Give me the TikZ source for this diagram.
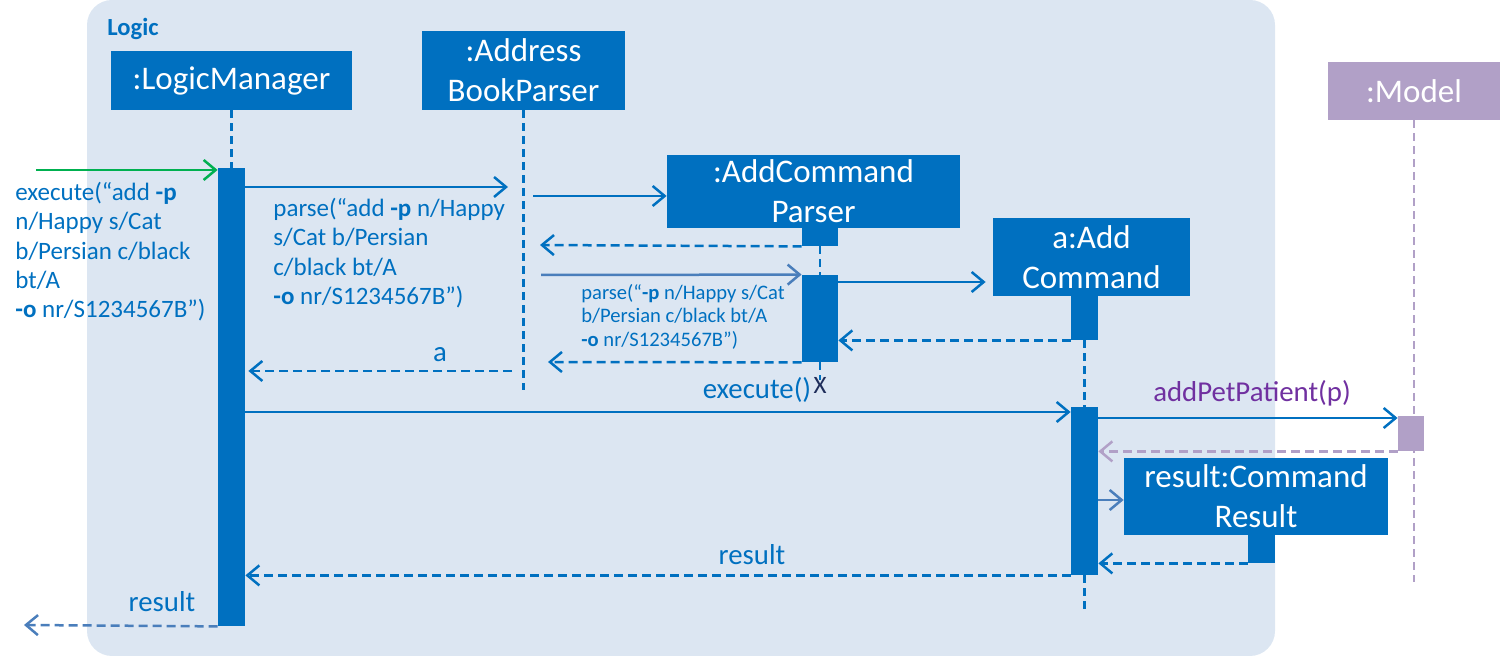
\documentclass[tikz,border=0pt]{standalone}
\usepackage{fontspec}
\setmainfont{Carlito}
\usepackage{tikz}
\usetikzlibrary{arrows.meta,positioning}
\definecolor{lgblue}{RGB}{0,112,192}
\definecolor{lgback}{RGB}{220,230,242}
\definecolor{lgpale}{RGB}{74,126,187}
\definecolor{lggreen}{RGB}{0,176,80}
\definecolor{mdpurple}{RGB}{177,160,199}
\definecolor{mdtext}{RGB}{112,48,160}
\definecolor{xnavy}{RGB}{31,45,90}
\newcommand{\objfont}{\fontsize{16.5}{20}\selectfont}
\newcommand{\msgfont}{\fontsize{12.5}{14.6}\selectfont}
\newcommand{\smallmsgfont}{\fontsize{10.3}{11.75}\selectfont}
\newcommand{\callfont}{\fontsize{14.4}{16}\selectfont}
\tikzset{
  obj/.style={fill=lgblue, text=white, align=center, inner sep=0pt, font=\objfont},
  act/.style={fill=lgblue, inner sep=0pt, minimum width=13.5pt},
  life/.style={lgblue, line width=1.25pt, dash pattern=on 4pt off 2.5pt},
  call/.style={lgblue, line width=1.25pt, -{Straight Barb[length=6pt,width=10pt]}},
  reply/.style={call, dash pattern=on 4.5pt off 2.5pt},
  msg/.style={text=lgblue, font=\msgfont, inner sep=0pt, align=left},
}

\begin{document}
\begin{tikzpicture}[x=0.5pt,y=-0.5pt]
\useasboundingbox (0,0) rectangle (1500,656);
% Logic frame
\fill[lgback, rounded corners=12.5pt] (87,0) rectangle (1275,656);
\node[text=lgblue, font=\fontsize{12.3}{14}\selectfont\bfseries, anchor=west, inner sep=0pt] (logic) at (107,29) {Logic};

% Objects
\node[obj, minimum width=120.5pt, minimum height=29.5pt] (lm) at (231.5,80.5) {:LogicManager};
\node[obj, minimum width=101.5pt, minimum height=39.5pt] (abp) at (523.5,70.5) {:Address\\BookParser};
\node[obj, minimum width=146.5pt, minimum height=36.5pt] (acp) at (813.5,191.5) {:AddCommand\\Parser};
\node[obj, minimum width=98.5pt, minimum height=39pt] (ac) at (1091.5,257) {a:Add\\Command};
\node[obj, fill=mdpurple, minimum width=86pt, minimum height=29pt] (md) at (1414,91) {:Model};
\node[obj, minimum width=132pt, minimum height=38.5pt] (cr) at (1256,496.5) {result:Command\\Result};

% Activation bars
\node[act, minimum height=229pt] (lmAct) at (231.5,397) {};
\node[act, minimum width=18pt, minimum height=9pt] (acpTop) at (820,237) {};
\node[act, minimum width=18pt, minimum height=43.5pt] (acpAct) at (820,318.5) {};
\node[act, minimum height=22pt] (acTop) at (1084.5,318) {};
\node[act, minimum height=84pt] (acAct) at (1084.5,491) {};
\node[act, fill=mdpurple, minimum width=13pt, minimum height=17.5pt] (mdAct) at (1411,433.5) {};
\node[act, minimum height=14pt] (crTop) at (1261.5,549) {};

% Free ends
\coordinate (user) at (36,170);
\coordinate (caller) at (24,625);
\coordinate (abpIn) at (508,187);
\coordinate (abpOut) at (512,371);
\coordinate (abpNew) at (533,196);
\coordinate (abpBack) at (540,245);
\coordinate (abpCall) at (541,275);
\coordinate (abpEnd) at (548,362);
\coordinate (abpFoot) at (523.5,390);
\coordinate (acpX) at (820,380);
\coordinate (acFoot) at (1084.5,612);
\coordinate (mdFoot) at (1414,582);

% Lifelines
\draw[life] (lm.south) -- (lmAct.north);
\draw[life] (abp.south) -- (abpFoot);
\draw[life] (acpTop.south) -- (acpAct.north);
\draw[life] (acpAct.south) -- (acpX);
\draw[life] (acTop.south) -- (acAct.north);
\draw[life] (acAct.south) -- (acFoot);
\draw[life, mdpurple] (md.south) -- (mdFoot);
\node[text=xnavy, font=\msgfont, inner sep=0pt] (xmark) at (820,385) {X};

% Messages
\draw[call, lggreen] (user) -- (lmAct.west |- user);
\node[msg, anchor=north west] (execLbl) at (15,182)
  {execute(“add \textbf{-p}\\n/Happy s/Cat\\b/Persian c/black\\bt/A\\\textbf{-o} nr/S1234567B”)};
\draw[call] (lmAct.east |- abpIn) -- (abpIn);
\node[msg, anchor=north west] (parseLbl) at (273,198)
  {parse(“add \textbf{-p} n/Happy\\s/Cat b/Persian\\c/black bt/A\\\textbf{-o} nr/S1234567B”)};
\draw[call] (abpNew) -- (acp.west |- abpNew);
\draw[reply] (acpTop.south west) -- (abpBack);
\draw[call, lgpale] (abpCall) -- (acpAct.north west);
\node[msg, font=\smallmsgfont, anchor=north west] (parse2Lbl) at (581,284)
  {parse(“\textbf{-p} n/Happy s/Cat\\b/Persian c/black bt/A\\\textbf{-o} nr/S1234567B”)};
\draw[call, shorten >=3.5pt] (acpAct.east |- 0,282) -- (ac.west |- 0,282);
\draw[reply] (acTop.south west) -- (acpAct.east |- acTop.south);
\draw[reply] (acpAct.south west) -- (abpEnd);
\draw[reply, shorten >=1.5pt] (abpOut) -- (lmAct.east |- abpOut);
\node[msg, font=\callfont] (aLbl) at (440,355) {a};
\draw[call] (lmAct.east |- 0,412) -- (acAct.west |- 0,412);
\node[msg, font=\callfont] (execLbl2) at (757,390) {execute()};
\draw[call] (acAct.east |- 0,418) -- (mdAct.west |- 0,418);
\node[msg, font=\callfont, text=mdtext] (addLbl) at (1252,393) {addPetPatient(p)};
\draw[reply, mdpurple] (mdAct.south west) -- (acAct.east |- mdAct.south west);
\draw[call, lgpale] (acAct.east |- 0,500) -- (cr.west |- 0,500);
\draw[reply] (crTop.south west) -- (acAct.east |- crTop.south west);
\draw[reply] (acAct.south west) -- (lmAct.east |- acAct.south west);
\node[msg, font=\callfont] (resLbl) at (752,555) {result};
\draw[reply, lgpale] (lmAct.south west) -- (caller);
\node[msg, font=\callfont] (resLbl2) at (162,602) {result};
\end{tikzpicture}
\end{document}
